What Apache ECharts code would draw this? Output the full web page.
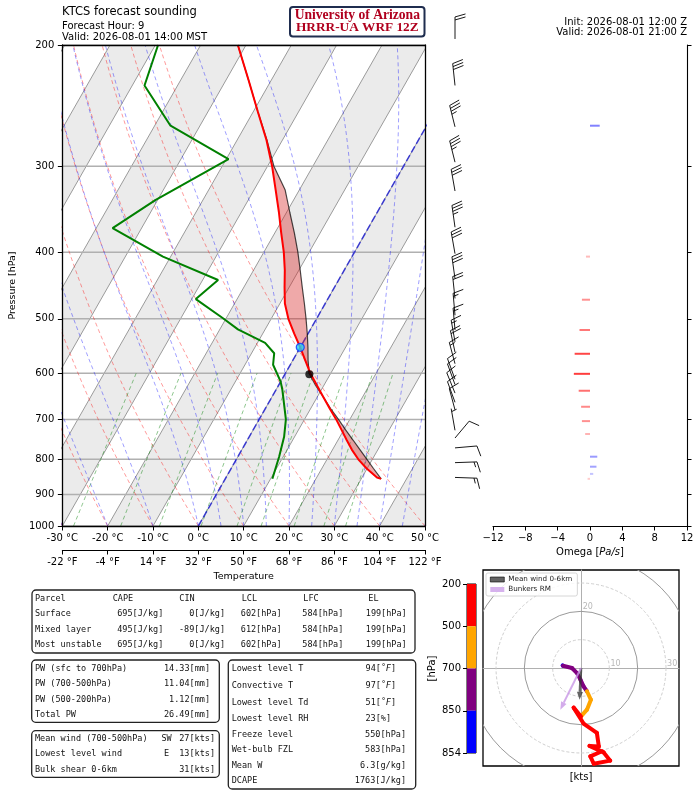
<!DOCTYPE html>
<html>
<head>
<meta charset="utf-8">
<script src="https://cdn.jsdelivr.net/npm/echarts@6/dist/echarts.min.js"></script>
<style>
  html, body { margin: 0; padding: 0; background: #fff; }
  #main { width: 700px; height: 791px; }
</style>
</head>
<body>
<div id="main"></div>
<script>
// ---- sounding profile (hPa, degC) ----
const levels = [854, 850, 825, 800, 775, 750, 725, 700, 675, 650, 625, 600, 575, 550, 525, 500, 475, 450, 425, 400, 375, 350, 325, 300, 275, 250, 225, 200];
const temps  = [34.4, 33.3, 29.9, 26.9, 24.3, 21.9, 19.5, 17.0, 14.2, 11.4, 8.5, 5.5, 2.8, 0.0, -3.1, -6.2, -8.9, -11.0, -13.1, -15.6, -18.6, -21.7, -25.2, -29.0, -33.5, -39.0, -45.0, -51.8];
const parcel = [34.4, 34.0, 31.4, 28.8, 26.1, 23.3, 20.4, 17.5, 14.4, 11.4, 8.2, 5.2, 3.4, 1.7, -0.2, -2.3, -4.6, -7.1, -9.7, -12.5, -15.7, -19.3, -23.1, -28.6, -33.4, -39.0, -45.0, -51.8];
const dewPres = [854, 793, 742, 700, 634, 617, 583, 561, 542, 518, 499, 468, 439, 406, 369, 336, 293, 262, 229, 200];
const dewVals = [10.4, 9.1, 7.7, 5.9, 1.4, 0.0, -3.8, -5.0, -8.3, -16.0, -20.7, -29.1, -26.6, -41.7, -56.4, -50.5, -39.5, -56.5, -67.3, -69.4];
const lclPoint = [602, 5.4];
const freezePoint = [550, 0.0];

// ---- wind barbs ----
const barbPres = [196, 229, 263, 296, 326, 368, 402, 437, 467, 494, 519, 540, 559, 581, 612, 623, 641, 661, 678, 726, 745, 770, 809, 850];
const barbDir  = [360, 354, 346, 346, 350, 352, 350, 352, 354, 355, 355, 350, 348, 345, 340, 340, 338, 340, 345, 350, 40, 85, 88, 92];
const barbSpd  = [20, 30, 35, 35, 30, 35, 30, 30, 20, 15, 15, 15, 20, 15, 10, 10, 10, 10, 10, 5, 10, 10, 15, 15];

// ---- omega (Pa/s) ----
const omegaPres = [262, 406, 469, 519, 562, 601, 636, 671, 704, 735, 793, 820, 840, 854];
const omegaVals = [1.2, -0.5, -1.0, -1.3, -1.9, -2.0, -1.4, -1.1, -1.0, -0.6, 0.9, 0.8, 0.4, -0.3];

// ---- hodograph (kts) ----
const hodoPres = [854, 850, 810, 780, 750, 725, 700, 650, 575, 500, 490, 460, 430, 400, 375, 350, 325, 300, 275, 250];
const hodoU = [-6.5, -6.4, -3.2, -1.4, -0.2, 0.9, 2.1, 3.5, 2.1, 0.0, -2.6, 0.9, 5.6, 6.3, 3.0, 8.0, 10.3, 4.5, 3.3, 7.4];
const hodoV = [0.9, 0.8, 0.0, -1.8, -4.1, -6.5, -8.2, -11.2, -14.7, -17.1, -14.0, -19.6, -22.9, -27.7, -27.5, -29.8, -32.7, -33.8, -31.2, -29.4];
const meanWind = [-0.5, -11.2];
const bunkersRM = [-7.3, -14.7];
const hodoRings = [10, 20, 30, 40, 50];
const hodoRingLabels = ['10', '20', '30'];
const cbarLabels = ['200', '500', '700', '850', '854'];
const cbarColors = ['#ff0000', '#ffa500', '#800080', '#0000ff'];

// ---- diagram background ----
const presTicks = [1000, 900, 800, 700, 600, 500, 400, 300, 200];
const isoTemps = [-100, -90, -80, -70, -60, -50, -40, -30, -20, -10, 0, 10, 20, 30, 40, 50];
const bandStarts = [-100, -80, -60, -40, -20, 0, 20, 40];
const dryT0 = [-30, -20, -10, 0, 10, 20, 30, 40, 50];
const moistT0 = [-30, -20, -10, 0, 5, 10, 15, 20, 25, 30, 35, 40, 45, 50];
const mixRatios = [0.0004, 0.001, 0.002, 0.004, 0.007, 0.01, 0.016, 0.024, 0.032];

// ---- tables ----
const parcelHead = ['Parcel', 'CAPE', 'CIN', 'LCL', 'LFC', 'EL'];
const parcelRows = [
  ['Surface', '695[J/kg]', '0[J/kg]', '602[hPa]', '584[hPa]', '199[hPa]'],
  ['Mixed layer', '495[J/kg]', '-89[J/kg]', '612[hPa]', '584[hPa]', '199[hPa]'],
  ['Most unstable', '695[J/kg]', '0[J/kg]', '602[hPa]', '584[hPa]', '199[hPa]']
];
const pwLabels = ['PW (sfc to 700hPa)', 'PW (700-500hPa)', 'PW (500-200hPa)', 'Total PW'];
const pwValues = ['14.33[mm]', '11.04[mm]', '1.12[mm]', '26.49[mm]'];
const windLabels = ['Mean wind (700-500hPa)', 'Lowest level wind', 'Bulk shear 0-6km'];
const windDirs = ['SW', 'E', ''];
const windValues = ['27[kts]', '13[kts]', '31[kts]'];
const idxLabels = ['Lowest level T', 'Convective T', 'Lowest level Td', 'Lowest level RH', 'Freeze level', 'Wet-bulb FZL', 'Mean W', 'DCAPE'];
const idxValues = ['94[°F]', '97[°F]', '51[°F]', '23[%]', '550[hPa]', '583[hPa]', '6.3[g/kg]', '1763[J/kg]'];

const FONT = 'DejaVu Sans';
const MONO = 'DejaVu Sans Mono';
const SKEW = 37.6;
const LN200 = Math.log(200), LN1000 = Math.log(1000);
const sx = (t, p) => t + SKEW * Math.log(1000 / p);
const pt = (t, p) => [sx(t, p), Math.log(p)];

const curveP = [];
for (let p = 1000; p >= 200; p -= 10) curveP.push(p);

function moistCurve(t0) {
  const f = (p, T) => {
    const tc = T - 273.15;
    const es = 6.112 * Math.exp(17.67 * tc / (tc + 243.5));
    const rs = 0.622 * es / (p - es);
    return (287.04 * T + 2.501e6 * rs) /
      (1005.7 + 2.501e6 * 2.501e6 * rs * 0.622 / (287.04 * T * T)) / p;
  };
  let T = t0 + 273.15, p = 1000;
  const out = [pt(t0, p)];
  const h = -2;
  while (p > 200.5) {
    const k1 = f(p, T), k2 = f(p + h / 2, T + h / 2 * k1);
    const k3 = f(p + h / 2, T + h / 2 * k2), k4 = f(p + h, T + h * k3);
    T += h / 6 * (k1 + 2 * k2 + 2 * k3 + k4);
    p += h;
    if (Math.round(p) % 10 === 0) out.push(pt(T - 273.15, p));
  }
  return out;
}

function mixDew(p, w) {
  const e = p * w / (0.622 + w);
  const l = Math.log(e / 6.112);
  return 243.5 * l / (17.67 - l);
}

function simpleLine(data, color, width, type, z) {
  return {
    type: 'line', xAxisIndex: 0, yAxisIndex: 0, data: data, showSymbol: false, silent: true,
    z: z, lineStyle: { color: color, width: width, type: type || 'solid' }, animation: false
  };
}

const series = [];

// shaded isotherm bands
series.push({
  type: 'custom', xAxisIndex: 0, yAxisIndex: 0, clip: true, silent: true, z: 1,
  data: bandStarts.map(t => [t, t + 10]),
  renderItem: (params, api) => {
    const t1 = api.value(0), t2 = api.value(1);
    const pts = [pt(t1, 1000), pt(t2, 1000), pt(t2, 200), pt(t1, 200)].map(c => api.coord(c));
    return { type: 'polygon', shape: { points: pts }, style: { fill: '#ebebeb' } };
  }
});
isoTemps.forEach(t => series.push(simpleLine([pt(t, 1000), pt(t, 200)], '#9a9a9a', 1, 'solid', 2)));
presTicks.forEach(p => series.push(simpleLine([[-30, Math.log(p)], [50, Math.log(p)]], '#b0b0b0', 1.5, 'solid', 2)));
dryT0.forEach(t0 => series.push(simpleLine(
  curveP.map(p => pt((t0 + 273.15) * Math.pow(p / 1000, 0.2857) - 273.15, p)),
  'rgba(255,0,0,0.4)', 1, [4, 3], 3)));
moistT0.forEach(t0 => series.push(simpleLine(moistCurve(t0), 'rgba(0,0,255,0.38)', 1, [4, 3], 3)));
mixRatios.forEach(w => series.push(simpleLine(
  curveP.filter(p => p >= 600).map(p => pt(mixDew(p, w), p)),
  'rgba(0,128,0,0.45)', 1, [4, 3], 3)));
series.push(simpleLine([pt(0, 1000), pt(0, 200)], 'rgba(0,0,220,0.65)', 1.6, [7, 3], 4));

// CAPE shading between parcel and environment
series.push({
  type: 'custom', xAxisIndex: 0, yAxisIndex: 0, clip: true, silent: true, z: 5,
  data: [[0, Math.log(500)]],
  renderItem: (params, api) => {
    const fwd = levels.map((p, i) => api.coord(pt(Math.max(temps[i], parcel[i]), p)));
    const back = levels.map((p, i) => api.coord(pt(temps[i], p))).reverse();
    return { type: 'polygon', shape: { points: fwd.concat(back) }, style: { fill: 'rgba(214,39,40,0.4)' } };
  }
});
series.push(simpleLine(levels.map((p, i) => pt(parcel[i], p)), 'rgba(0,0,0,0.7)', 1.2, 'solid', 6));
series.push(simpleLine(levels.map((p, i) => pt(temps[i], p)), '#ff0000', 2, 'solid', 7));
series.push(simpleLine(dewPres.map((p, i) => pt(dewVals[i], p)), '#008000', 2, 'solid', 7));
series.push({
  type: 'scatter', xAxisIndex: 0, yAxisIndex: 0, z: 8, silent: true, symbolSize: 8,
  data: [
    { value: pt(lclPoint[1], lclPoint[0]), itemStyle: { color: '#000' } },
    { value: pt(freezePoint[1], freezePoint[0]), itemStyle: { color: '#22d3f5', borderColor: '#1030ff', borderWidth: 1.2 } }
  ]
});

// wind barbs
series.push({
  type: 'custom', xAxisIndex: 3, yAxisIndex: 2, silent: true, z: 5,
  data: barbPres.map((p, i) => [0, Math.log(p), barbDir[i], barbSpd[i]]),
  renderItem: (params, api) => {
    const base = api.coord([0, api.value(1)]);
    const rad = api.value(2) * Math.PI / 180;
    const d = [Math.sin(rad), -Math.cos(rad)];
    const side = [-d[1], d[0]];
    const L = 22, sp = 3, fh = 10.5, tilt = 3;
    const st = { stroke: '#000', lineWidth: 0.9 };
    const at = k => [base[0] + d[0] * k, base[1] + d[1] * k];
    const kids = [];
    const tip = at(L);
    kids.push({ type: 'line', shape: { x1: base[0], y1: base[1], x2: tip[0], y2: tip[1] }, style: st });
    let s = Math.round(api.value(3) / 5) * 5;
    const n50 = Math.floor(s / 50); s -= n50 * 50;
    const n10 = Math.floor(s / 10); s -= n10 * 10;
    const n5 = s >= 5 ? 1 : 0;
    let pos = L;
    for (let k = 0; k < n50; k++) {
      const a = at(pos), b = at(pos - 2 * sp);
      kids.push({ type: 'polygon', shape: { points: [a, [a[0] + side[0] * fh, a[1] + side[1] * fh], b] }, style: { fill: '#000' } });
      pos -= 2.5 * sp;
    }
    for (let k = 0; k < n10; k++) {
      const a = at(pos);
      kids.push({ type: 'line', shape: { x1: a[0], y1: a[1], x2: a[0] + side[0] * fh + d[0] * tilt, y2: a[1] + side[1] * fh + d[1] * tilt }, style: st });
      pos -= sp;
    }
    if (n5) {
      if (n50 + n10 === 0) pos -= sp;
      const a = at(pos);
      kids.push({ type: 'line', shape: { x1: a[0], y1: a[1], x2: a[0] + side[0] * fh / 2 + d[0] * tilt / 2, y2: a[1] + side[1] * fh / 2 + d[1] * tilt / 2 }, style: st });
    }
    return { type: 'group', children: kids };
  }
});

// omega bars
function omegaColor(w) {
  const a = Math.min(0.8, 0.1 + Math.abs(w) * 0.33);
  return w < 0 ? 'rgba(255,0,0,' + a + ')' : 'rgba(0,0,255,' + a + ')';
}
series.push({
  type: 'custom', xAxisIndex: 4, yAxisIndex: 3, silent: true, z: 5,
  data: omegaPres.map((p, i) => [omegaVals[i], Math.log(p)]),
  renderItem: (params, api) => {
    const w = api.value(0), y = api.value(1);
    const a = api.coord([0, y]), b = api.coord([w, y]);
    return { type: 'line', shape: { x1: a[0], y1: a[1], x2: b[0], y2: b[1] }, style: { stroke: omegaColor(w), lineWidth: 2 } };
  }
});

// hodograph rings
series.push({
  type: 'custom', xAxisIndex: 5, yAxisIndex: 4, silent: true, clip: true, z: 2,
  data: hodoRings.map(r => [r, 0]),
  renderItem: (params, api) => {
    const r = api.value(0);
    const c = api.coord([0, 0]);
    const rp = api.size([r, 0])[0];
    const solid = r % 20 === 0;
    return {
      type: 'circle', shape: { cx: c[0], cy: c[1], r: rp },
      style: { fill: 'none', stroke: solid ? '#9a9a9a' : '#cfcfcf', lineWidth: 1, lineDash: solid ? null : [3, 2] }
    };
  }
});
series.push({
  type: 'custom', xAxisIndex: 5, yAxisIndex: 4, silent: true, z: 3,
  data: hodoRingLabels.map(s => [Number(s), 0]),
  renderItem: (params, api) => {
    const r = api.value(0);
    const onV = r === 20;
    const c = api.coord(onV ? [0.6, r] : [r + 0.4, 0]);
    return {
      type: 'text', x: c[0], y: c[1],
      style: { text: String(r), fontSize: 8, fontFamily: FONT, fill: '#b8b8b8', align: 'left', verticalAlign: 'bottom', textAlign: 'left', textVerticalAlign: 'bottom' }
    };
  }
});
// hodograph trace coloured by pressure layer
function layerColor(p) {
  if (p > 850) return cbarColors[3];
  if (p > 700) return cbarColors[2];
  if (p > 500) return cbarColors[1];
  return cbarColors[0];
}
series.push({
  type: 'custom', xAxisIndex: 5, yAxisIndex: 4, silent: true, clip: true, z: 4,
  data: hodoPres.slice(0, -1).map((p, i) => [hodoU[i], hodoV[i], hodoU[i + 1], hodoV[i + 1], p]),
  renderItem: (params, api) => {
    const a = api.coord([api.value(0), api.value(1)]);
    const b = api.coord([api.value(2), api.value(3)]);
    return { type: 'line', shape: { x1: a[0], y1: a[1], x2: b[0], y2: b[1] }, style: { stroke: layerColor(api.value(4)), lineWidth: 4, lineCap: 'round' } };
  }
});
function arrowSeries(name, vec, color, width, head) {
  return {
    name: name, type: 'custom', xAxisIndex: 5, yAxisIndex: 4, silent: true, z: 6,
    itemStyle: { color: color },
    data: [[vec[0], vec[1]]],
    renderItem: (params, api) => {
      const o = api.coord([0, 0]);
      const e = api.coord([api.value(0), api.value(1)]);
      const dx = e[0] - o[0], dy = e[1] - o[1];
      const len = Math.hypot(dx, dy);
      const ux = dx / len, uy = dy / len;
      const hb = [e[0] - ux * head * 1.3, e[1] - uy * head * 1.3];
      return {
        type: 'group', children: [
          { type: 'line', shape: { x1: o[0], y1: o[1], x2: hb[0], y2: hb[1] }, style: { stroke: color, lineWidth: width } },
          { type: 'polygon', shape: { points: [e, [hb[0] - uy * head / 2, hb[1] + ux * head / 2], [hb[0] + uy * head / 2, hb[1] - ux * head / 2]] }, style: { fill: color } }
        ]
      };
    }
  };
}
series.push(arrowSeries('Mean wind 0-6km', meanWind, 'rgba(50,50,50,0.75)', 2.6, 6));
series.push(arrowSeries('Bunkers RM', bunkersRM, 'rgba(200,150,230,0.8)', 2, 6));

// colour bar
series.push({
  type: 'custom', xAxisIndex: 6, yAxisIndex: 5, silent: true, z: 2,
  data: cbarColors.map((c, i) => [i, i + 1]),
  renderItem: (params, api) => {
    const i = api.value(0);
    const a = api.coord([0, i]), b = api.coord([1, i + 1]);
    return { type: 'rect', shape: { x: a[0], y: a[1], width: b[0] - a[0], height: b[1] - a[1] }, style: { fill: cbarColors[i] } };
  }
});

const tickFont = { fontFamily: FONT, fontSize: 10, color: '#000' };
const blackLine = { show: true, onZero: false, lineStyle: { color: '#000', width: 1.3 } };
const thinBlack = { show: true, onZero: false, lineStyle: { color: '#000', width: 1.1 } };
const lnTicks = presTicks.map(p => Math.log(p));

const xAxes = [
  { gridIndex: 0, type: 'value', min: -30, max: 50, interval: 10, position: 'bottom', z: 10,
    axisLine: blackLine, axisTick: { show: true, length: 4.5, lineStyle: { color: '#000' } },
    axisLabel: Object.assign({ margin: 7, formatter: v => v + ' °C', showMinLabel: true, showMaxLabel: true }, tickFont),
    splitLine: { show: false } },
  { gridIndex: 0, type: 'value', min: -30, max: 50, interval: 10, position: 'bottom', offset: 24, z: 10,
    axisLine: thinBlack, axisTick: { show: true, length: 4.5, lineStyle: { color: '#000' } },
    axisLabel: Object.assign({ margin: 7, formatter: v => Math.round(v * 1.8 + 32) + ' °F', showMinLabel: true, showMaxLabel: true }, tickFont),
    name: 'Temperature', nameLocation: 'middle', nameGap: 22,
    nameTextStyle: { fontFamily: FONT, fontSize: 9.5, color: '#000' },
    splitLine: { show: false } },
  { gridIndex: 0, type: 'value', min: -30, max: 50, position: 'top', z: 10,
    axisLine: blackLine, axisTick: { show: false }, axisLabel: { show: false }, splitLine: { show: false } },
  { gridIndex: 1, type: 'value', min: -1, max: 1, show: false },
  { gridIndex: 2, type: 'value', min: -12, max: 12, interval: 4, position: 'bottom', z: 10,
    axisLine: thinBlack, axisTick: { show: true, length: 4.5, lineStyle: { color: '#000' } },
    axisLabel: Object.assign({ margin: 7, formatter: v => (v < 0 ? '\u2212' + (-v) : String(v)), showMinLabel: true, showMaxLabel: true }, tickFont),
    name: '{a|Omega [}{b|Pa/s}{a|]}', nameLocation: 'middle', nameGap: 21,
    nameTextStyle: { rich: { a: { fontFamily: FONT, fontSize: 10, color: '#000' }, b: { fontFamily: FONT, fontSize: 10, fontStyle: 'italic', color: '#000' } } },
    splitLine: { show: false } },
  { gridIndex: 3, type: 'value', min: -34.6, max: 34.6,
    axisLine: { show: true, onZero: true, lineStyle: { color: '#b0b0b0', width: 1 } },
    axisTick: { show: false }, axisLabel: { show: false }, splitLine: { show: false } },
  { gridIndex: 4, type: 'value', min: 0, max: 1, show: false }
];

const yAxes = [
  { gridIndex: 0, type: 'value', inverse: true, min: LN200, max: LN1000, position: 'left', z: 10,
    axisLine: blackLine,
    axisTick: { show: true, length: 4.5, customValues: lnTicks, lineStyle: { color: '#000' } },
    axisLabel: Object.assign({ margin: 8, customValues: lnTicks, formatter: v => String(Math.round(Math.exp(v))) }, tickFont),
    name: 'Pressure [hPa]', nameLocation: 'middle', nameGap: 42,
    nameTextStyle: { fontFamily: FONT, fontSize: 9.5, color: '#000' },
    splitLine: { show: false } },
  { gridIndex: 0, type: 'value', inverse: true, min: LN200, max: LN1000, position: 'right', z: 10,
    axisLine: blackLine, axisTick: { show: false }, axisLabel: { show: false }, splitLine: { show: false } },
  { gridIndex: 1, type: 'value', inverse: true, min: LN200, max: LN1000, show: false },
  { gridIndex: 2, type: 'value', inverse: true, min: LN200, max: LN1000, position: 'right', z: 10,
    axisLine: thinBlack,
    axisTick: { show: true, length: 4.5, customValues: lnTicks, lineStyle: { color: '#000' } },
    axisLabel: { show: false }, splitLine: { show: false } },
  { gridIndex: 3, type: 'value', min: -34.6, max: 34.6,
    axisLine: { show: true, onZero: true, lineStyle: { color: '#b0b0b0', width: 1 } },
    axisTick: { show: false }, axisLabel: { show: false }, splitLine: { show: false } },
  { gridIndex: 4, type: 'value', inverse: true, min: 0, max: 4, position: 'left',
    axisLine: { show: false, onZero: false },
    axisTick: { show: true, length: 4, customValues: [0, 1, 2, 3, 4], lineStyle: { color: '#000' } },
    axisLabel: Object.assign({ margin: 6, customValues: [0, 1, 2, 3, 4], formatter: v => cbarLabels[Math.round(v)] }, tickFont),
    name: '[hPa]', nameLocation: 'middle', nameGap: 30,
    nameTextStyle: { fontFamily: FONT, fontSize: 10, color: '#000' },
    splitLine: { show: false } }
];

// text blocks and boxes
function T(x, y, s, o) {
  o = o || {};
  const al = o.align || 'left';
  return {
    type: 'text', x: x, y: y, z: 30, silent: true,
    style: Object.assign({
      text: s, fontFamily: o.font || MONO, fontSize: o.size || 8.5, fill: o.fill || '#111',
      fontWeight: o.weight || 'normal',
      align: al, textAlign: al, verticalAlign: 'middle', textVerticalAlign: 'middle'
    }, o.rich ? { rich: o.rich } : {})
  };
}
function box(x, y, w, h) {
  return { type: 'rect', z: 20, silent: true, shape: { x: x, y: y, width: w, height: h, r: 4 }, style: { fill: '#fff', stroke: '#222', lineWidth: 1.3 } };
}
const g = [];
g.push(T(62, 12, 'KTCS forecast sounding', { font: FONT, size: 11.5, fill: '#000' }));
g.push(T(62, 26.5, 'Forecast Hour: 9', { font: FONT, size: 10, fill: '#000' }));
g.push(T(62, 37, 'Valid: 2026-08-01 14:00 MST', { font: FONT, size: 10, fill: '#000' }));
g.push({ type: 'rect', z: 20, silent: true, shape: { x: 290, y: 7, width: 134.5, height: 29.5, r: 3 }, style: { fill: '#fff', stroke: '#1f2d4f', lineWidth: 2 } });
g.push(T(357.3, 15.7, 'University of Arizona', { font: 'Liberation Serif', size: 13.6, weight: 'bold', fill: '#b0001e', align: 'center' }));
g.push(T(357.3, 27.7, 'HRRR-UA WRF 12Z', { font: 'Liberation Serif', size: 13.3, weight: 'bold', fill: '#b0001e', align: 'center' }));
g.push(T(687, 22, 'Init: 2026-08-01 12:00 Z', { font: FONT, size: 10, fill: '#000', align: 'right' }));
g.push(T(687, 32.5, 'Valid: 2026-08-01 21:00 Z', { font: FONT, size: 10, fill: '#000', align: 'right' }));
g.push(T(581, 777, '[kts]', { font: FONT, size: 10, fill: '#000', align: 'center' }));

// parcel table
g.push(box(32, 590, 383, 63));
const headX = [35, 112.7, 179.3, 241.7, 303.3, 368.3];
const valRight = [163.3, 225, 281.7, 343.3, 406.7];
const rowY1 = [598.3, 614, 629.5, 645];
parcelHead.forEach((s, j) => g.push(T(headX[j], rowY1[0], s)));
parcelRows.forEach((row, i) => {
  g.push(T(35, rowY1[i + 1], row[0]));
  row.slice(1).forEach((s, j) => g.push(T(valRight[j], rowY1[i + 1], s, { align: 'right' })));
});
// precipitable water
g.push(box(31.7, 660, 187.6, 62.3));
const rowY2 = [668.3, 684, 699.3, 715];
pwLabels.forEach((s, i) => { g.push(T(35, rowY2[i], s)); g.push(T(210, rowY2[i], pwValues[i], { align: 'right' })); });
// wind
g.push(box(31.7, 730.7, 187.6, 46.6));
const rowY3 = [738.5, 754, 769.5];
windLabels.forEach((s, i) => {
  g.push(T(35, rowY3[i], s));
  if (windDirs[i]) g.push(T(166.5, rowY3[i], windDirs[i], { align: 'center' }));
  g.push(T(215, rowY3[i], windValues[i], { align: 'right' }));
});
// indices
g.push(box(228.3, 660, 187.4, 129));
const rowY4 = [668.3, 685.7, 702.7, 719, 734.3, 750, 765.3, 781];
idxLabels.forEach((s, i) => {
  g.push(T(231.7, rowY4[i], s));
  const v = idxValues[i];
  if (v.indexOf('°F') >= 0) {
    const num = v.split('[')[0];
    g.push(T(396, rowY4[i], '{n|' + num + '[˚}{i|F}{n|]}', {
      align: 'right',
      rich: { n: { fontFamily: MONO, fontSize: 8.5, fill: '#111' }, i: { fontFamily: FONT, fontSize: 8.5, fontStyle: 'italic', fill: '#111' } }
    }));
  } else {
    const right = v.indexOf('%') >= 0 ? 391 : 406;
    g.push(T(right, rowY4[i], v, { align: 'right' }));
  }
});

const option = {
  animation: false,
  backgroundColor: '#fff',
  textStyle: { fontFamily: FONT },
  grid: [
    { left: 58, top: 45, width: 367, height: 481, containLabel: false },
    { left: 430, top: 45, width: 50, height: 481 },
    { left: 493, top: 45, width: 194, height: 481 },
    { left: 483, top: 570, width: 196, height: 196, show: true, borderColor: '#000', borderWidth: 1.3, backgroundColor: 'transparent' },
    { left: 467, top: 584, width: 9, height: 169, show: true, borderColor: '#000', borderWidth: 1, backgroundColor: 'transparent' }
  ],
  xAxis: xAxes,
  yAxis: yAxes,
  legend: {
    data: [
      { name: 'Mean wind 0-6km', itemStyle: { color: 'rgba(60,60,60,0.8)', borderColor: '#000', borderWidth: 0.6 } },
      { name: 'Bunkers RM', itemStyle: { color: 'rgba(210,170,235,0.9)' } }
    ],
    left: 486, top: 573, orient: 'vertical', icon: 'rect', itemWidth: 14, itemHeight: 5, itemGap: 3,
    selectedMode: false, padding: [3, 5, 3, 4],
    backgroundColor: 'rgba(255,255,255,0.85)', borderColor: '#cccccc', borderWidth: 0.8, borderRadius: 2,
    textStyle: { fontSize: 7.2, fontFamily: FONT, color: '#222', padding: [0, 0, 0, -1] }
  },
  graphic: g,
  series: series
};

const chart = echarts.init(document.getElementById('main'), null, { renderer: 'canvas' });
chart.setOption(option);
</script>
</body>
</html>
